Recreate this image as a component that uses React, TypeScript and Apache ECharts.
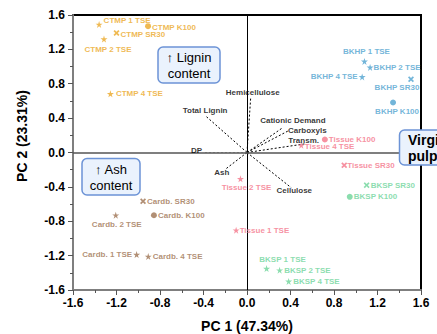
import React, { useEffect, useRef } from "react";
import * as echarts from "echarts";

// ---- Sample scores ----
const ctmpNames = ["CTMP 1 TSE", "CTMP K100", "CTMP SR30", "CTMP 2 TSE", "CTMP 4 TSE"];
const ctmpX = [-1.36, -0.91, -1.2, -1.315, -1.256];
const ctmpY = [1.49, 1.47, 1.39, 1.32, 0.683];

const bkhpNames = ["BKHP 1 TSE", "BKHP 2 TSE", "BKHP 4 TSE", "BKHP SR30", "BKHP K100"];
const bkhpX = [1.08, 1.132, 1.059, 1.508, 1.343];
const bkhpY = [1.06, 0.99, 0.88, 0.853, 0.582];

const tissueNames = ["Tissue K100", "Tissue 4 TSE", "Tissue SR30", "Tissue 2 TSE", "Tissue 1 TSE"];
const tissueX = [0.716, 0.499, 0.894, -0.06, -0.1];
const tissueY = [0.151, 0.085, -0.148, -0.306, -0.904];

const bkspNames = ["BKSP SR30", "BKSP K100", "BKSP 1 TSE", "BKSP 2 TSE", "BKSP 4 TSE"];
const bkspX = [1.1, 0.945, 0.18, 0.3, 0.383];
const bkspY = [-0.38, -0.516, -1.35, -1.37, -1.5];

const cardbNames = ["Cardb. SR30", "Cardb. 2 TSE", "Cardb. K100", "Cardb. 1 TSE", "Cardb. 4 TSE"];
const cardbX = [-0.956, -1.207, -0.856, -1.015, -0.908];
const cardbY = [-0.567, -0.73, -0.73, -1.187, -1.21];

// ---- Loadings ----
const loadNames = ["Hemicellulose", "Total Lignin", "Cationic Demand", "Carboxyls", "Transm.", "DP", "Ash", "Cellulose"];
const loadX = [0.034, -0.385, 0.33, 0.377, 0.53, -0.39, -0.204, 0.407];
const loadY = [0.64, 0.43, 0.29, 0.25, 0.1, 0.0, -0.2, -0.41];

const axisTicks = [-1.6, -1.2, -0.8, -0.4, 0.0, 0.4, 0.8, 1.2, 1.6];

// ---- styling / layout (not data) ----
const STAR = "path://M50,0 L61,35 L98,35 L68,57 L79,91 L50,70 L21,91 L32,57 L2,35 L39,35 Z";
const XMARK = "path://M0,2 L2,0 L5,3 L8,0 L10,2 L7,5 L10,8 L8,10 L5,7 L2,10 L0,8 L3,5 Z";

function markerFor(name: string) {
  if (name.indexOf("K100") >= 0) return { symbol: "circle", size: 6 };
  if (name.indexOf("SR30") >= 0) return { symbol: XMARK, size: 6 };
  return { symbol: STAR, size: 7 };
}

const labelPlace: Record<string, { position: string; offset?: number[]; distance?: number }> = {
  "CTMP 1 TSE": { position: "right", offset: [-1, -4] },
  "CTMP K100": { position: "right", offset: [-1, 1] },
  "CTMP SR30": { position: "right", offset: [-1, 1] },
  "CTMP 2 TSE": { position: "bottom", offset: [4, 0], distance: 3 },
  "CTMP 4 TSE": { position: "right" },
  "BKHP 1 TSE": { position: "top", offset: [2, 0], distance: 2 },
  "BKHP 2 TSE": { position: "right", offset: [-2, 0] },
  "BKHP 4 TSE": { position: "left", offset: [1, 0] },
  "BKHP SR30": { position: "bottom", offset: [-14, -1], distance: 2 },
  "BKHP K100": { position: "bottom", offset: [4, 0], distance: 2 },
  "Tissue K100": { position: "right", offset: [-1, 0] },
  "Tissue 4 TSE": { position: "right", offset: [-2, 1] },
  "Tissue SR30": { position: "right", offset: [-2, 0] },
  "Tissue 2 TSE": { position: "bottom", offset: [6, -1], distance: 2 },
  "Tissue 1 TSE": { position: "right", offset: [-2, 0] },
  "BKSP SR30": { position: "right", offset: [-1, 0] },
  "BKSP K100": { position: "right", offset: [-1, 0] },
  "BKSP 1 TSE": { position: "top", offset: [16, 0], distance: 2 },
  "BKSP 2 TSE": { position: "right", offset: [-1, 0] },
  "BKSP 4 TSE": { position: "right", offset: [-1, 0] },
  "Cardb. SR30": { position: "right", offset: [-1, 0] },
  "Cardb. 2 TSE": { position: "bottom", offset: [1, 0], distance: 2 },
  "Cardb. K100": { position: "right", offset: [-1, 0] },
  "Cardb. 1 TSE": { position: "left", offset: [1, 0] },
  "Cardb. 4 TSE": { position: "right", offset: [-1, 0] },
};

const loadLabelPlace: Record<string, { position: string; offset?: number[]; distance?: number }> = {
  Hemicellulose: { position: "top", offset: [2, 0], distance: 1 },
  "Total Lignin": { position: "top", offset: [0, 0], distance: 1 },
  "Cationic Demand": { position: "top", offset: [10, -2], distance: 1 },
  Carboxyls: { position: "right", offset: [-1, -1], distance: 1 },
  "Transm.": { position: "top", offset: [-1, 1], distance: 0 },
  DP: { position: "top", offset: [-8, 2], distance: 0 },
  Ash: { position: "bottom", offset: [-3, -1], distance: 0 },
  Cellulose: { position: "bottom", offset: [3, -1], distance: 0 },
};

const FONT = "'Liberation Sans', Arial, sans-serif";

function groupSeries(names: string[], xs: number[], ys: number[], color: string) {
  return {
    type: "scatter",
    z: 5,
    itemStyle: { color },
    data: names.map((n, i) => {
      const m = markerFor(n);
      const lp = labelPlace[n] || { position: "right" };
      return {
        name: n,
        value: [xs[i], ys[i]],
        symbol: m.symbol,
        symbolSize: m.size,
        label: {
          show: true,
          formatter: n,
          position: lp.position,
          offset: lp.offset || [0, 0],
          distance: lp.distance !== undefined ? lp.distance : 2,
          color,
          fontSize: 8,
          fontWeight: "bold",
          fontFamily: FONT,
        },
      };
    }),
  };
}

export default function App() {
  const ref = useRef<HTMLDivElement>(null);
  useEffect(() => {
    document.body.style.margin = "0";
    if (!ref.current) return;
    const chart = echarts.init(ref.current, null, { renderer: "svg" });

    const loadingLines = loadNames.map((n, i) => ({
      type: "line",
      z: 3,
      silent: true,
      showSymbol: false,
      symbol: "none",
      lineStyle: {
        color: n === "DP" ? "#b0b0b0" : "#000",
        width: 1,
        type: [2, 2],
      },
      data: [
        [0, 0],
        [loadX[i], loadY[i]],
      ],
    }));

    const loadingLabels = {
      type: "scatter",
      z: 6,
      symbolSize: 0,
      silent: true,
      data: loadNames.map((n, i) => {
        const lp = loadLabelPlace[n];
        return {
          value: [loadX[i], loadY[i]],
          label: {
            show: true,
            formatter: n,
            position: lp.position,
            offset: lp.offset,
            distance: lp.distance,
            color: "#000",
            fontSize: 8,
            fontWeight: "bold",
            fontFamily: FONT,
          },
        };
      }),
    };

    const boxText = {
      fontFamily: FONT,
      fill: "#000",
    };

    const option: any = {
      animation: false,
      backgroundColor: "#fff",
      grid: {
        left: 73,
        right: 16,
        top: 15,
        bottom: 44,
        show: true,
        borderColor: "#000",
        borderWidth: 2,
      },
      xAxis: {
        type: "value",
        min: axisTicks[0],
        max: axisTicks[axisTicks.length - 1],
        interval: 0.4,
        axisLine: { show: true, onZero: false, lineStyle: { color: "#7f7f7f", width: 2 } },
        axisTick: { show: true, inside: false, length: 5, lineStyle: { color: "#555", width: 1 } },
        minorTick: { show: true, splitNumber: 2, length: 3, lineStyle: { color: "#555", width: 1 } },
        splitLine: { show: false },
        axisLabel: {
          color: "#000",
          fontSize: 12,
          fontWeight: "bold",
          fontFamily: FONT,
          margin: 7,
          formatter: (v: number) => v.toFixed(1),
        },
      },
      yAxis: {
        type: "value",
        min: axisTicks[0],
        max: axisTicks[axisTicks.length - 1],
        interval: 0.4,
        axisLine: { show: true, onZero: false, lineStyle: { color: "#7f7f7f", width: 2 } },
        axisTick: { show: true, inside: false, length: 5, lineStyle: { color: "#555", width: 1 } },
        minorTick: { show: true, splitNumber: 2, length: 3, lineStyle: { color: "#555", width: 1 } },
        splitLine: { show: false },
        axisLabel: {
          color: "#000",
          fontSize: 12,
          fontWeight: "bold",
          fontFamily: FONT,
          margin: 8,
          formatter: (v: number) => v.toFixed(1),
        },
      },
      series: [
        {
          type: "scatter",
          data: [],
          z: 1,
          markLine: {
            silent: true,
            symbol: "none",
            label: { show: false },
            animation: false,
            data: [
              { xAxis: 0, lineStyle: { color: "#000", width: 1, type: "solid" } },
              { yAxis: 0, lineStyle: { color: "#555", width: 1.5, type: "solid" } },
            ],
          },
        },
        ...loadingLines,
        loadingLabels,
        groupSeries(ctmpNames, ctmpX, ctmpY, "#EBA827"),
        groupSeries(bkhpNames, bkhpX, bkhpY, "#4FA3CF"),
        groupSeries(tissueNames, tissueX, tissueY, "#F4758A"),
        groupSeries(bkspNames, bkspX, bkspY, "#6ED49A"),
        groupSeries(cardbNames, cardbX, cardbY, "#9E7352"),
      ],
      graphic: [
        {
          type: "text",
          x: 247,
          y: 326,
          style: { ...boxText, text: "PC 1 (47.34%)", fontSize: 14, fontWeight: "bold", textAlign: "center", textVerticalAlign: "middle" },
        },
        {
          type: "text",
          x: 22,
          y: 136,
          rotation: Math.PI / 2,
          style: { ...boxText, text: "PC 2 (23.31%)", fontSize: 14, fontWeight: "bold", textAlign: "center", textVerticalAlign: "middle" },
        },
        {
          type: "rect",
          z: 10,
          shape: { x: 158, y: 47, width: 62, height: 36, r: 5 },
          style: { fill: "#EAF2FD", stroke: "#6C93D6", lineWidth: 1.5 },
        },
        {
          type: "text",
          z: 11,
          x: 189,
          y: 65,
          style: { ...boxText, text: "\u2191 Lignin\ncontent", fontSize: 13, lineHeight: 16, textAlign: "center", textVerticalAlign: "middle" },
        },
        {
          type: "rect",
          z: 10,
          shape: { x: 82, y: 158.5, width: 58, height: 36.5, r: 5 },
          style: { fill: "#EAF2FD", stroke: "#6C93D6", lineWidth: 1.5 },
        },
        {
          type: "text",
          z: 11,
          x: 111,
          y: 177,
          style: { ...boxText, text: "\u2191 Ash\ncontent", fontSize: 13, lineHeight: 16, textAlign: "center", textVerticalAlign: "middle" },
        },
        {
          type: "rect",
          z: 10,
          shape: { x: 399.5, y: 130, width: 60, height: 35, r: 5 },
          style: { fill: "#EAF2FD", stroke: "#6C93D6", lineWidth: 1.5 },
        },
        {
          type: "text",
          z: 11,
          x: 408,
          y: 148,
          style: { ...boxText, text: "Virgin\npulps", fontSize: 14, fontWeight: "bold", lineHeight: 16, textAlign: "left", textVerticalAlign: "middle" },
        },
      ],
    };
    chart.setOption(option);
    return () => chart.dispose();
  }, []);
  return <div ref={ref} style={{ width: 437, height: 334 }} />;
}
